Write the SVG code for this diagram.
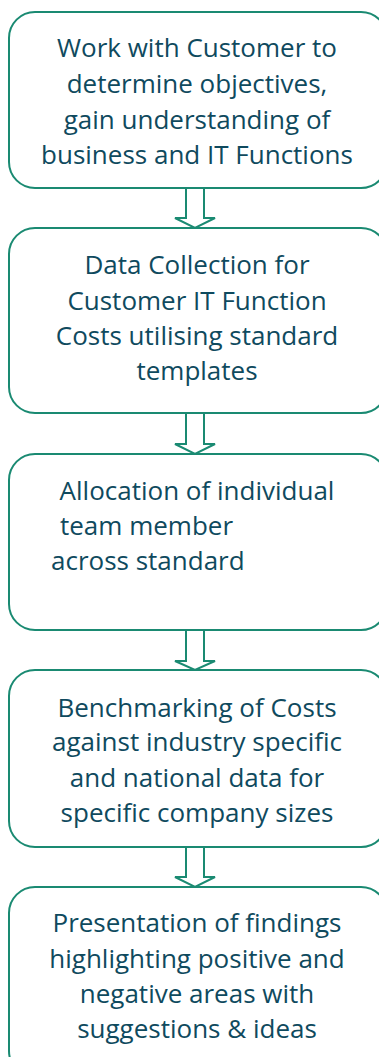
<svg xmlns="http://www.w3.org/2000/svg" width="379" height="1057" viewBox="0 0 379 1057">
<style>
.box{fill:#ffffff;stroke:#1a8a72;stroke-width:2}
.arr{fill:#ffffff;stroke:#1a8a72;stroke-width:2;stroke-linejoin:miter}
.t{font-family:"Open Sans","Noto Sans",sans-serif;font-size:26px;fill:#0f4a5e;text-anchor:middle}
.ts{font-family:"Open Sans","Noto Sans",sans-serif;font-size:26px;fill:#0f4a5e;text-anchor:start}
</style>
<rect width="379" height="1057" fill="#ffffff"/>
<g id="connectors">
<path class="arr" d="M186,187 V218 H175 L195,228 L215,218 H204 V187"/>
<path class="arr" d="M186,413 V444 H175 L195,454 L215,444 H204 V413"/>
<path class="arr" d="M186,630 V661 H175 L195,670 L215,661 H204 V630"/>
<path class="arr" d="M186,847 V877 H175 L195,887 L215,877 H204 V847"/>
</g>
<g id="node1">
<rect class="box" x="9" y="12" width="378" height="176" rx="26"/>
<text class="t" x="197" y="57">Work with Customer to</text>
<text class="t" x="197" y="93">determine objectives,</text>
<text class="t" x="197" y="129">gain understanding of</text>
<text class="t" x="197" y="164">business and IT Functions</text>
</g>
<g id="node2">
<rect class="box" x="9" y="228" width="378" height="185" rx="26"/>
<text class="t" x="197" y="274">Data Collection for</text>
<text class="t" x="197" y="310">Customer IT Function</text>
<text class="t" x="197" y="345">Costs utilising standard</text>
<text class="t" x="197" y="380">templates</text>
</g>
<g id="node3">
<rect class="box" x="9" y="454" width="378" height="176" rx="26"/>
<text class="t" x="197" y="500">Allocation of individual</text>
<text class="ts" x="60" y="535">team member</text>
<text class="ts" x="51" y="570">across standard</text>
</g>
<g id="node4">
<rect class="box" x="9" y="670" width="378" height="177" rx="26"/>
<text class="t" x="197" y="717">Benchmarking of Costs</text>
<text class="t" x="197" y="751">against industry specific</text>
<text class="t" x="197" y="787">and national data for</text>
<text class="t" x="197" y="822">specific company sizes</text>
</g>
<g id="node5">
<rect class="box" x="9" y="887" width="378" height="190" rx="26"/>
<text class="t" x="197" y="932">Presentation of findings</text>
<text class="t" x="197" y="968">highlighting positive and</text>
<text class="t" x="197" y="1003">negative areas with</text>
<text class="t" x="197" y="1038">suggestions &amp; ideas</text>
</g>
</svg>
